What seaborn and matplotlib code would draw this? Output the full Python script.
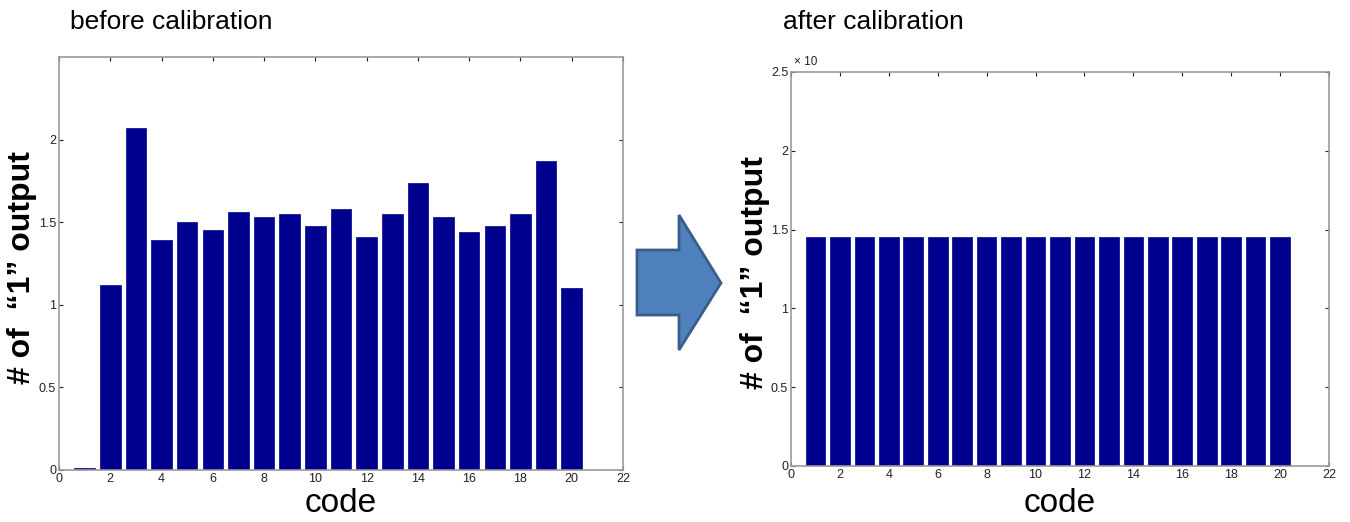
import matplotlib
matplotlib.use('Agg')
import matplotlib.pyplot as plt
import seaborn as sns
from matplotlib.patches import Polygon
from matplotlib.ticker import FuncFormatter

# data (counts in units of 10^x)
codes = list(range(1, 21))
before = [0.01, 1.12, 2.07, 1.39, 1.50, 1.45, 1.56, 1.53, 1.55, 1.48,
          1.58, 1.41, 1.55, 1.74, 1.53, 1.44, 1.48, 1.55, 1.87, 1.10]
after = [1.45] * 20
x_ticks = list(range(0, 23, 2))
y_ticks_left = [0, 0.5, 1, 1.5, 2]
y_ticks_right = [0, 0.5, 1, 1.5, 2, 2.5]

sns.set_style('white')
plt.rcParams['font.family'] = ['Liberation Sans', 'DejaVu Sans']
plt.rcParams['text.color'] = 'black'
plt.rcParams['axes.labelcolor'] = 'black'

bar_color = '#00008E'
spine_color = '#9a9a9a'

fig = plt.figure(figsize=(13.5, 5.22), dpi=100)
W, H = 1350, 522


def box(l, t, r, b):
    return [l / W, 1 - b / H, (r - l) / W, (b - t) / H]


def style_axes(ax, yticks, xlab_y):
    ax.set_xlim(0, 22)
    ax.set_ylim(0, 2.5)
    ax.set_xticks(x_ticks)
    ax.set_yticks(yticks)
    ax.yaxis.set_major_formatter(FuncFormatter(lambda v, p: '%g' % v))
    ax.tick_params(direction='in', length=3, width=0.8, color='#222222',
                   labelsize=9, labelcolor='#222222', pad=2,
                   top=True, right=True, bottom=True, left=True)
    for s in ax.spines.values():
        s.set_visible(True)
        s.set_color(spine_color)
        s.set_linewidth(1.2)
    ax.set_xlabel('code', fontsize=24)
    ax.xaxis.set_label_coords(0.5, xlab_y)
    ax.xaxis.label.set_va('center')
    ax.set_ylabel('# of  \u201c1\u201d output', fontsize=23, fontweight='bold')
    ax.yaxis.set_label_coords(-0.066, 0.49)
    ax.yaxis.label.set_va('center')
    ax.grid(False)


ax1 = fig.add_axes(box(59, 57, 623, 470))
sns.barplot(x=codes, y=before, native_scale=True, width=0.8, color=bar_color,
            saturation=1, edgecolor=bar_color, linewidth=0.5, ax=ax1)
style_axes(ax1, y_ticks_left, -0.08)

ax2 = fig.add_axes(box(791, 72, 1329, 466))
sns.barplot(x=codes, y=after, native_scale=True, width=0.8, color=bar_color,
            saturation=1, edgecolor=bar_color, linewidth=0.5, ax=ax2)
style_axes(ax2, y_ticks_right, -0.094)
ax2.text(0.005, 1.01, '\u00d7 10', transform=ax2.transAxes, fontsize=8.5, color='#222222',
         va='bottom', ha='left')

fig.text(70 / W, 1 - 22 / H, 'before calibration', fontsize=19, va='center', ha='left')
fig.text(783 / W, 1 - 22 / H, 'after calibration', fontsize=19, va='center', ha='left')

# big arrow between the panels
pts = [(637, 250), (679, 250), (679, 215), (721, 283), (679, 350), (679, 315), (637, 315)]
arrow = Polygon([(x / W, 1 - y / H) for x, y in pts], closed=True,
                facecolor='#4F81BD', edgecolor='#385D8A', linewidth=2,
                transform=fig.transFigure)
fig.patches.append(arrow)

fig.savefig('out.png', dpi=100)
